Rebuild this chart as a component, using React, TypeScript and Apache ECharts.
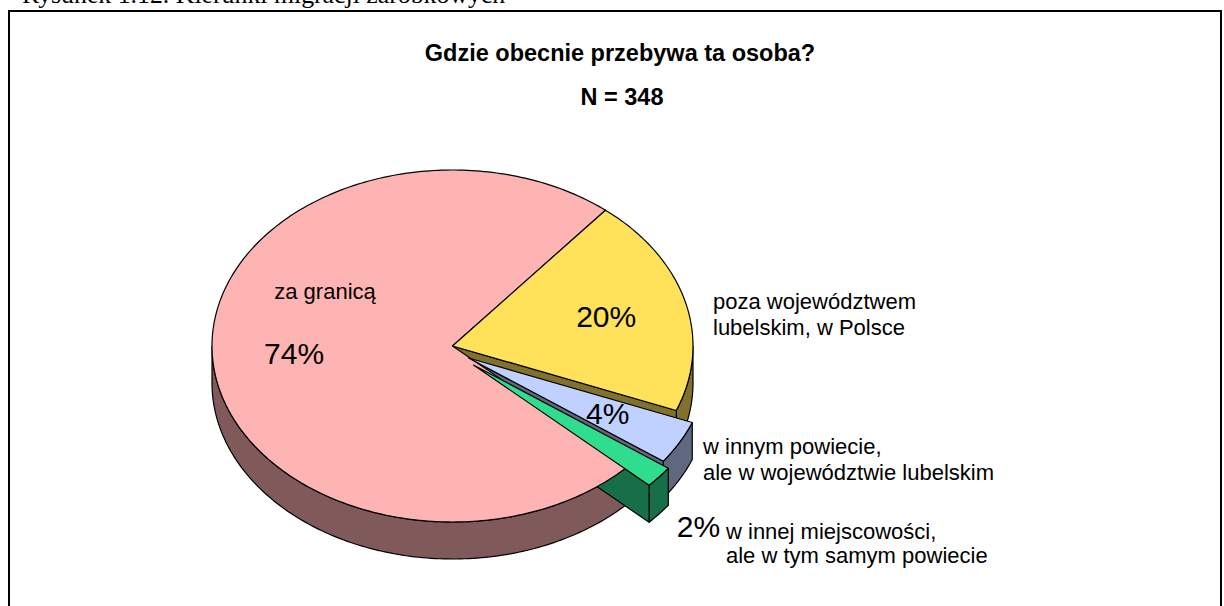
import React, { useEffect, useRef } from 'react';
import * as echarts from 'echarts';

// ---------- data ----------
const CATEGORIES = [
  'za granicą',
  'poza województwem\nlubelskim, w Polsce',
  'w innym powiecie,\nale w województwie lubelskim',
  'w innej miejscowości,\nale w tym samym powiecie',
];
const VALUES = [74, 20, 4, 2];
const TITLE = 'Gdzie obecnie przebywa ta osoba?';
const SUBTITLE = 'N = 348';
const CAPTION = 'Rysunek 1.12. Kierunki migracji zarobkowych';

// ---------- layout / style ----------
const CX = 452.5;
const CY = 346;
const RX = 240.5;
const RY = 176;
const DEPTH = 37;
const START_ANGLE = -43.1; // math degrees, slices run clockwise
const TOP_COLORS = ['#FFB4B4', '#FFE15A', '#C0D0FF', '#2EDE8E'];
const SIDE_COLORS = ['#805A5A', '#80712D', '#606880', '#176F47'];
const EXPLODE: [number, number][] = [[0, 0], [0, 0], [16, 12], [21, 19]];
const PCT_INSIDE = [true, true, true, false];
const PCT_RADIUS = 0.66;
const PCT_OUTSIDE_POS: ([number, number] | null)[] = [null, null, null, [698.5, 526.5]];
// name labels: x, y (middle of block), align, lineHeight
const NAME_POS: [number, number, string, number][] = [
  [325, 291.3, 'center', 26],
  [713, 314.8, 'left', 26.4],
  [703, 459.3, 'left', 26],
  [726, 543.3, 'left', 23.6],
];
const FONT = '"Liberation Sans", Arial, sans-serif';

const rad = (d: number) => (d * Math.PI) / 180;
const total = VALUES.reduce((a, b) => a + b, 0);
const SLICES: { a0: number; a1: number }[] = [];
{
  let acc = 0;
  VALUES.forEach((v) => {
    const a0 = START_ANGLE - (acc / total) * 360;
    const a1 = START_ANGLE - ((acc + v) / total) * 360;
    acc += v;
    SLICES.push({ a0, a1 });
  });
}

function rim(t: number, off: [number, number], dz = 0): number[] {
  return [CX + off[0] + RX * Math.cos(rad(t)), CY + off[1] - RY * Math.sin(rad(t)) + dz];
}
function arc(from: number, to: number, off: [number, number], dz = 0): number[][] {
  const n = Math.max(2, Math.ceil(Math.abs(to - from) / 1));
  const pts: number[][] = [];
  for (let k = 0; k <= n; k++) pts.push(rim(from + ((to - from) * k) / n, off, dz));
  return pts;
}
function txt(text: string, x: number, y: number, size: number, align: string, extra: any = {}) {
  return {
    type: 'text',
    x,
    y,
    z: 100,
    style: {
      text,
      fill: '#000',
      fontSize: size,
      fontFamily: FONT,
      align,
      textAlign: align,
      verticalAlign: 'middle',
      textVerticalAlign: 'middle',
      ...extra,
    },
  };
}

export default function App() {
  const ref = useRef<HTMLDivElement>(null);
  useEffect(() => {
    document.body.style.margin = '0';
    if (!ref.current) return;
    const chart = echarts.init(ref.current, undefined, { renderer: 'svg' });
    const data = VALUES.map((v, i) => ({ value: v, name: CATEGORIES[i] }));
    const lineStyle = { stroke: '#000', lineWidth: 1.2, lineJoin: 'round' };

    const renderWalls = (params: any) => {
      const i = params.dataIndex;
      const { a0, a1 } = SLICES[i];
      const off = EXPLODE[i];
      const style = { fill: SIDE_COLORS[i], ...lineStyle };
      const tip = [CX + off[0], CY + off[1]];
      const children: any[] = [];
      for (let k = -2; k <= 2; k++) {
        const lo = Math.max(a1, -180 + 360 * k);
        const hi = Math.min(a0, 360 * k);
        if (lo < hi) {
          const top = arc(hi, lo, off, 0);
          const bot = arc(lo, hi, off, DEPTH);
          children.push({ type: 'polygon', shape: { points: [...top, ...bot] }, style });
        }
      }
      const face = (t: number) => {
        const r = rim(t, off);
        return {
          type: 'polygon',
          shape: { points: [tip, r, [r[0], r[1] + DEPTH], [tip[0], tip[1] + DEPTH]] },
          style,
        };
      };
      if (Math.cos(rad(a1)) > 0) children.push(face(a1));
      if (Math.cos(rad(a0)) < 0) children.push(face(a0));
      return { type: 'group', children };
    };

    const renderTops = (params: any, api: any) => {
      const i = params.dataIndex;
      const { a0, a1 } = SLICES[i];
      const off = EXPLODE[i];
      const tip = [CX + off[0], CY + off[1]];
      const children: any[] = [
        {
          type: 'polygon',
          shape: { points: [tip, ...arc(a0, a1, off, 0)] },
          style: { fill: TOP_COLORS[i], ...lineStyle },
        },
      ];
      const pct = Math.round((api.value(0) / total) * 100) + '%';
      if (PCT_INSIDE[i]) {
        const m = (a0 + a1) / 2;
        const x = CX + off[0] + RX * PCT_RADIUS * Math.cos(rad(m));
        const y = CY + off[1] - RY * PCT_RADIUS * Math.sin(rad(m));
        children.push(txt(pct, x, y, 30, 'center'));
      } else {
        const p = PCT_OUTSIDE_POS[i];
        if (p) children.push(txt(pct, p[0], p[1], 30, 'center'));
      }
      const np = NAME_POS[i];
      children.push(txt(CATEGORIES[i], np[0], np[1], 22, np[2], { lineHeight: np[3] }));
      return { type: 'group', children };
    };

    chart.setOption({
      animation: false,
      backgroundColor: '#fff',
      graphic: [
        {
          type: 'rect',
          shape: { x: 9, y: 11, width: 1212, height: 640 },
          style: { fill: 'none', stroke: '#000', lineWidth: 2 },
          z: 0,
        },
        txt(CAPTION, 22, -5.2, 25.8, 'left', { fontFamily: '"Liberation Serif", "Times New Roman", serif' }),
        txt(TITLE, 620, 52.5, 23.5, 'center', { fontWeight: 'bold' }),
        txt(SUBTITLE, 622, 96.8, 23.5, 'center', { fontWeight: 'bold' }),
      ],
      series: [
        { type: 'custom', coordinateSystem: 'none', renderItem: renderWalls, data, z: 1, silent: true },
        { type: 'custom', coordinateSystem: 'none', renderItem: renderTops, data, z: 2, silent: true },
      ],
    });
    return () => chart.dispose();
  }, []);
  return <div ref={ref} style={{ width: 1224, height: 606 }} />;
}
